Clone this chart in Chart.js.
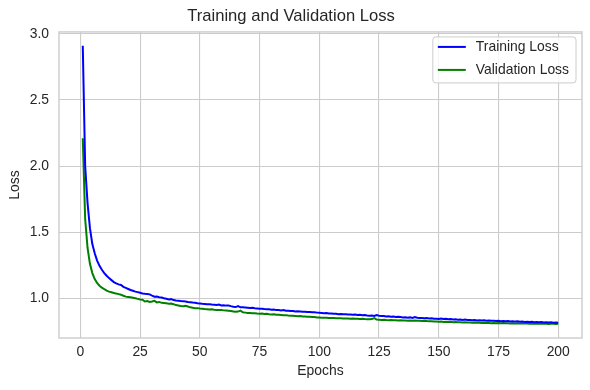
<!DOCTYPE html>
<html>
<head>
<meta charset="utf-8">
<script src="https://cdn.jsdelivr.net/npm/chart.js@4.4.1/dist/chart.umd.min.js"></script>
<style>
  html, body { margin: 0; padding: 0; background: #ffffff; }
  #wrap { width: 590px; height: 390px; }
</style>
</head>
<body>
<div id="wrap"><canvas id="c" width="590" height="390"></canvas></div>
<script>
const chartTitle = "Training and Validation Loss";
const xLabel = "Epochs";
const yLabel = "Loss";
const seriesNames = ["Training Loss", "Validation Loss"];
const xTicks = [0, 25, 50, 75, 100, 125, 150, 175, 200];
const yTicks = [1.0, 1.5, 2.0, 2.5, 3.0];

const trainingLoss = [
  2.91, 2.00, 1.72, 1.53, 1.41, 1.34, 1.285, 1.245, 1.215, 1.19,
  1.17, 1.152, 1.137, 1.122, 1.112, 1.105, 1.10, 1.086, 1.078, 1.07,
  1.062, 1.056, 1.05, 1.046, 1.041, 1.036, 1.033, 1.032, 1.029, 1.02,
  1.012, 1.013, 1.008, 1.006, 1.0, 0.996, 0.991, 0.993, 0.986, 0.983,
  0.981, 0.979, 0.978, 0.975, 0.972, 0.97, 0.967, 0.965, 0.962, 0.96,
  0.958, 0.957, 0.955, 0.955, 0.952, 0.95, 0.948, 0.952, 0.945, 0.946,
  0.944, 0.945, 0.94, 0.936, 0.933, 0.94, 0.931, 0.932, 0.93, 0.928,
  0.926, 0.927, 0.924, 0.922, 0.92, 0.921, 0.918, 0.916, 0.917, 0.913,
  0.914, 0.91, 0.911, 0.908, 0.91, 0.905, 0.906, 0.903, 0.904, 0.90,
  0.901, 0.899, 0.897, 0.898, 0.895, 0.896, 0.893, 0.894, 0.891, 0.89,
  0.889, 0.887, 0.888, 0.884, 0.885, 0.882, 0.883, 0.879, 0.88, 0.878,
  0.879, 0.876, 0.877, 0.875, 0.876, 0.873, 0.874, 0.872, 0.873, 0.87,
  0.868, 0.869, 0.866, 0.872, 0.868, 0.865, 0.866, 0.862, 0.863, 0.86,
  0.861, 0.858, 0.859, 0.857, 0.855, 0.856, 0.853, 0.855, 0.851, 0.857,
  0.852, 0.85, 0.851, 0.849, 0.85, 0.847, 0.848, 0.845, 0.844, 0.842,
  0.846, 0.843, 0.845, 0.841, 0.842, 0.839, 0.84, 0.838, 0.839, 0.836,
  0.838, 0.835, 0.836, 0.833, 0.835, 0.832, 0.834, 0.831, 0.833, 0.83,
  0.832, 0.829, 0.83, 0.827, 0.829, 0.826, 0.828, 0.825, 0.827, 0.824,
  0.826, 0.823, 0.825, 0.822, 0.823, 0.821, 0.822, 0.82, 0.822, 0.819,
  0.82, 0.818, 0.82, 0.817, 0.819, 0.816, 0.818, 0.815, 0.816, 0.815
];

const validationLoss = [
  2.21, 1.60, 1.38, 1.26, 1.19, 1.145, 1.115, 1.095, 1.08, 1.068,
  1.058, 1.05, 1.045, 1.04, 1.035, 1.031, 1.027, 1.019, 1.012, 1.01,
  1.007, 1.004, 1.0, 0.995, 0.99, 0.988, 0.975, 0.978, 0.971, 0.975,
  0.98, 0.968, 0.972, 0.965, 0.964, 0.962, 0.958, 0.96, 0.955, 0.948,
  0.945, 0.942, 0.94, 0.942, 0.937, 0.931, 0.928, 0.925, 0.925, 0.922,
  0.921, 0.918, 0.917, 0.915, 0.916, 0.912, 0.911, 0.91, 0.911, 0.908,
  0.907, 0.905, 0.903, 0.90, 0.897, 0.899, 0.906, 0.893, 0.891, 0.889,
  0.888, 0.887, 0.886, 0.884, 0.883, 0.884, 0.881, 0.882, 0.879, 0.877,
  0.878, 0.875, 0.874, 0.873, 0.871, 0.872, 0.869, 0.868, 0.867, 0.866,
  0.864, 0.865, 0.862, 0.861, 0.86, 0.859, 0.858, 0.857, 0.855, 0.854,
  0.853, 0.852, 0.853, 0.851, 0.85, 0.851, 0.849, 0.848, 0.849, 0.847,
  0.846, 0.847, 0.845, 0.846, 0.844, 0.845, 0.843, 0.844, 0.842, 0.841,
  0.84, 0.842, 0.849, 0.838, 0.837, 0.836, 0.837, 0.835, 0.834, 0.835,
  0.833, 0.834, 0.832, 0.833, 0.831, 0.832, 0.83, 0.831, 0.83, 0.832,
  0.829, 0.83, 0.828, 0.829, 0.827, 0.826, 0.825, 0.824, 0.823, 0.822,
  0.823, 0.821, 0.822, 0.82, 0.821, 0.819, 0.82, 0.818, 0.819, 0.817,
  0.818, 0.816, 0.817, 0.815, 0.816, 0.814, 0.815, 0.813, 0.814, 0.812,
  0.813, 0.811, 0.812, 0.81, 0.812, 0.811, 0.813, 0.81, 0.811, 0.809,
  0.81, 0.808, 0.81, 0.809, 0.811, 0.808, 0.809, 0.807, 0.808, 0.807,
  0.809, 0.806, 0.808, 0.806, 0.807, 0.805, 0.807, 0.806, 0.805, 0.806
];

const toPoints = arr => arr.map((v, i) => ({ x: i + 1, y: v }));

const FONT = "'Liberation Sans', Arial, Helvetica, sans-serif";
const TEXT = '#262626';
const GRID = '#cccccc';

const frameAndLegend = {
  id: 'frameAndLegend',
  afterDatasetsDraw(chart) {
    const { ctx, chartArea: a } = chart;
    ctx.save();
    ctx.strokeStyle = GRID;
    ctx.lineWidth = 1.4;
    ctx.strokeRect(a.left, a.top, a.right - a.left, a.bottom - a.top);
    ctx.restore();
  },
  afterDraw(chart) {
    const { ctx, chartArea: a } = chart;
    const ds = chart.data.datasets;
    ctx.save();
    ctx.font = "13.9px " + FONT;
    let maxW = 0;
    ds.forEach(d => { maxW = Math.max(maxW, ctx.measureText(d.label).width); });
    const handle = 28, gap = 10, padX = 5, rowH = 23, firstOff = 10;
    const w = padX + handle + gap + maxW + padX + 2;
    const h = firstOff * 2 + rowH * (ds.length - 1) + 3;
    const x = a.right - 6 - w;
    const y = a.top + 5;
    const r = 3;
    ctx.beginPath();
    ctx.moveTo(x + r, y);
    ctx.lineTo(x + w - r, y);
    ctx.quadraticCurveTo(x + w, y, x + w, y + r);
    ctx.lineTo(x + w, y + h - r);
    ctx.quadraticCurveTo(x + w, y + h, x + w - r, y + h);
    ctx.lineTo(x + r, y + h);
    ctx.quadraticCurveTo(x, y + h, x, y + h - r);
    ctx.lineTo(x, y + r);
    ctx.quadraticCurveTo(x, y, x + r, y);
    ctx.closePath();
    ctx.fillStyle = 'rgba(255,255,255,0.8)';
    ctx.fill();
    ctx.strokeStyle = GRID;
    ctx.lineWidth = 1;
    ctx.stroke();
    ds.forEach((d, i) => {
      const cy = y + firstOff + rowH * i;
      ctx.beginPath();
      ctx.strokeStyle = d.borderColor;
      ctx.lineWidth = 2;
      ctx.moveTo(x + padX, cy);
      ctx.lineTo(x + padX + handle, cy);
      ctx.stroke();
      ctx.fillStyle = TEXT;
      ctx.textBaseline = 'middle';
      ctx.textAlign = 'left';
      ctx.fillText(d.label, x + padX + handle + gap, cy + 0.5);
    });
    ctx.restore();
  }
};

new Chart(document.getElementById('c'), {
  type: 'line',
  data: {
    datasets: [
      { label: seriesNames[0], data: toPoints(trainingLoss), borderColor: '#0000ff',
        borderWidth: 2, pointRadius: 0, tension: 0, fill: false },
      { label: seriesNames[1], data: toPoints(validationLoss), borderColor: '#008000',
        borderWidth: 2, pointRadius: 0, tension: 0, fill: false }
    ]
  },
  options: {
    responsive: false,
    animation: false,
    devicePixelRatio: 1,
    layout: { padding: { left: 0, right: 8, top: 0, bottom: 0 } },
    plugins: {
      legend: { display: false },
      tooltip: { enabled: false },
      title: {
        display: true, text: chartTitle, color: TEXT,
        font: { family: FONT, size: 16.6, weight: 'normal' },
        padding: { top: 6, bottom: 6 }
      }
    },
    scales: {
      x: {
        type: 'linear', min: -8.95, max: 209.95,
        afterBuildTicks: s => { s.ticks = xTicks.map(v => ({ value: v })); },
        afterFit: s => { s.height = 52; },
        grid: { color: GRID, lineWidth: 1.1, drawTicks: false },
        border: { display: false },
        ticks: { color: TEXT, font: { family: FONT, size: 13.9 }, padding: 6, maxRotation: 0,
                 callback: v => String(v) },
        title: { display: true, text: xLabel, color: TEXT,
                 font: { family: FONT, size: 13.9 }, padding: { top: 0, bottom: 10 } }
      },
      y: {
        type: 'linear', min: 0.699, max: 3.015,
        afterBuildTicks: s => { s.ticks = yTicks.map(v => ({ value: v })); },
        afterFit: s => { s.width = 59; },
        grid: { color: GRID, lineWidth: 1.1, drawTicks: false },
        border: { display: false },
        ticks: { color: TEXT, font: { family: FONT, size: 13.9 }, padding: 10,
                 callback: v => Number(v).toFixed(1) },
        title: { display: true, text: yLabel, color: TEXT,
                 font: { family: FONT, size: 13.9 }, padding: { top: 7, bottom: 0 } }
      }
    }
  },
  plugins: [frameAndLegend]
});
</script>
</body>
</html>
